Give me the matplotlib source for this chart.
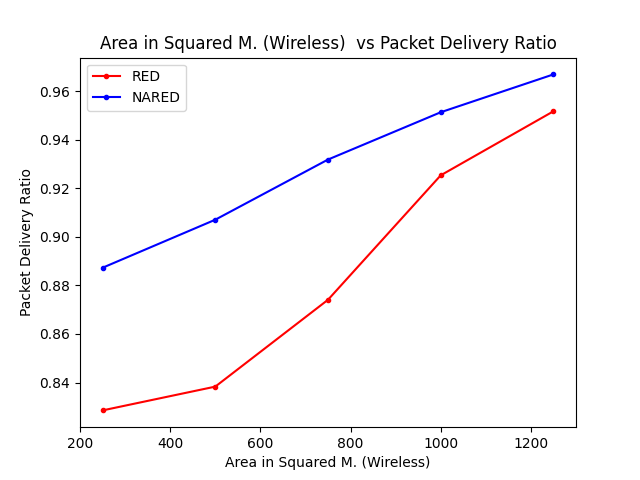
import matplotlib
matplotlib.use('Agg')
import matplotlib.pyplot as plt

area = [250, 500, 750, 1000, 1250]
red_pdr = [0.8285, 0.8383, 0.8741, 0.9254, 0.9518]
nared_pdr = [0.8873, 0.9071, 0.9319, 0.9514, 0.9670]

fig, ax = plt.subplots(figsize=(6.4, 4.8), dpi=100)
ax.plot(area, red_pdr, color='red', marker='.', label='RED')
ax.plot(area, nared_pdr, color='blue', marker='.', label='NARED')
ax.set_xlabel('Area in Squared M. (Wireless)')
ax.set_ylabel('Packet Delivery Ratio')
ax.set_title('Area in Squared M. (Wireless)  vs Packet Delivery Ratio')
ax.set_xlim(200, 1300)
ax.legend(loc='upper left')
fig.savefig('out.png')
